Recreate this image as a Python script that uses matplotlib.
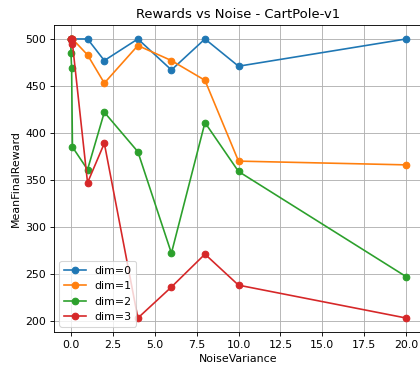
import numpy as np
import matplotlib
matplotlib.use('Agg')
import matplotlib.pyplot as plt
from matplotlib.ticker import MultipleLocator

# noise variance levels (the first few are tiny, they sit on top of each other at x=0)
noise = [0, 0.01, 0.05, 0.1, 1, 2, 4, 6, 8, 10, 20]

reward_dim0 = [500, 500, 500, 500, 500, 477, 500, 467, 500, 471, 500]
reward_dim1 = [500, 500, 500, 500, 483, 453, 493, 477, 456, 370, 366]
reward_dim2 = [500, 485, 469, 385, 361, 422, 380, 272, 411, 359, 247]
reward_dim3 = [500, 500, 500, 495, 347, 389, 203, 236, 271, 238, 203]

rewards = [reward_dim0, reward_dim1, reward_dim2, reward_dim3]
labels = ['dim=0', 'dim=1', 'dim=2', 'dim=3']

dpi = 79
fig = plt.figure(figsize=(420/dpi, 366/dpi), dpi=dpi)
# axes run a little past the right edge, like the cropped original
ax = fig.add_axes([54/420, 34/366, 369/420, 307/366])

for i in range(len(rewards)):
    ax.plot(noise, rewards[i], marker='o', label=labels[i])

ax.set_title('Rewards vs Noise - CartPole-v1')
ax.set_xlabel('NoiseVariance')
ax.set_ylabel('MeanFinalReward')
ax.xaxis.set_major_locator(MultipleLocator(2.5))
ax.grid(True)
ax.legend(loc='lower left')

plt.savefig('out.png', dpi=dpi)
